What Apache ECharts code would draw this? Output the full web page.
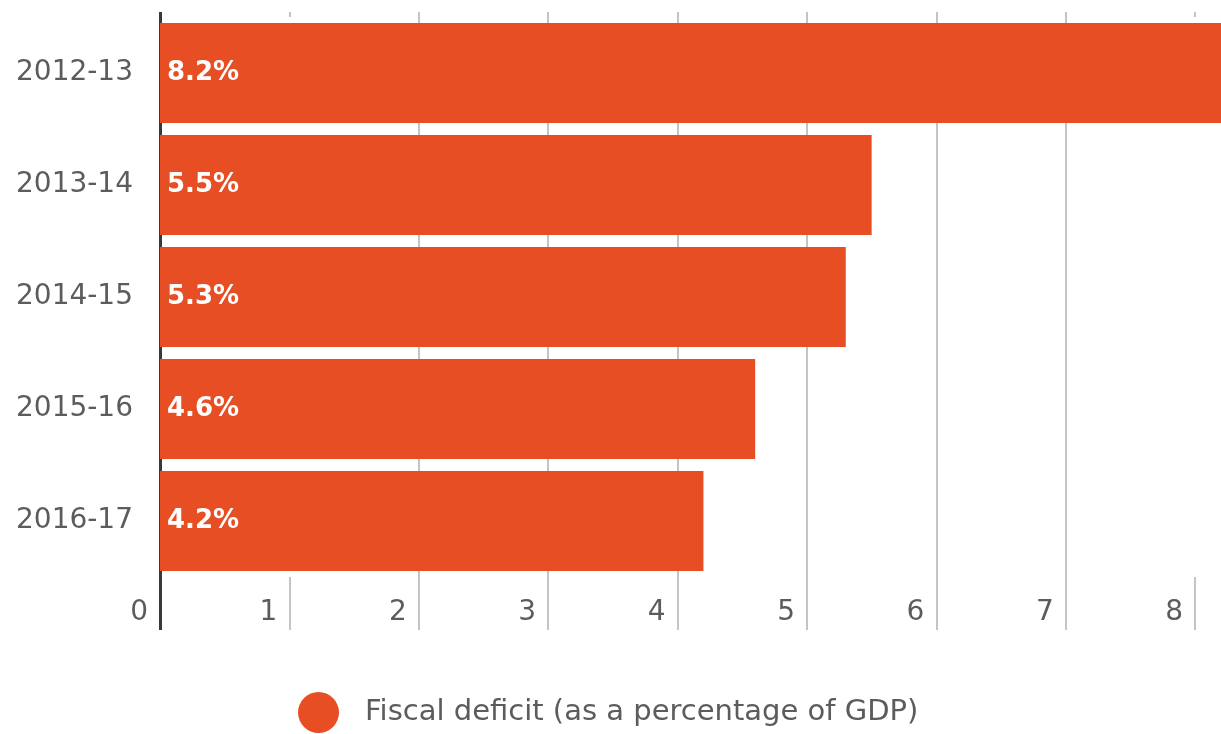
<!DOCTYPE html>
<html>
<head>
<meta charset="utf-8">
<script src="https://cdn.jsdelivr.net/npm/echarts@6/dist/echarts.min.js"></script>
<style>html,body{margin:0;padding:0;background:#fff}#c{width:1221px;height:734px}</style>
</head>
<body>
<div id="c"></div>
<script>
const categories = ['2012-13', '2013-14', '2014-15', '2015-16', '2016-17'];
const deficit = [8.2, 5.5, 5.3, 4.6, 4.2];
const gridTicks = [1, 2, 3, 4, 5, 6, 7, 8];
const axisZero = [0];
const tickLabels = [0, 1, 2, 3, 4, 5, 6, 7, 8];
const seriesName = 'Fiscal deficit (as a percentage of GDP)';

const FONT = 'DejaVu Sans';
const GRAY_TEXT = '#5c5c5c';
const GRID = '#c4c4c4';
const DARK = '#3a3a3a';
const BAR = '#E84E24';

const chart = echarts.init(document.getElementById('c'), null, {renderer: 'canvas'});
const baseX = {type: 'value', min: 0, max: 8.2, interval: 1, gridIndex: 0};
chart.setOption({
  animation: false,
  backgroundColor: '#ffffff',
  grid: {left: 160, right: 0, top: 17, height: 560, containLabel: false},
  legend: {
    data: [seriesName], left: 298, top: 692, padding: 0,
    icon: 'circle', itemWidth: 41, itemHeight: 41,
    textStyle: {fontFamily: FONT, fontSize: 29, color: GRAY_TEXT, padding: [0, 0, 0, 21]}
  },
  xAxis: [
    Object.assign({}, baseX, {
      position: 'bottom',
      axisLine: {show: false},
      axisTick: {show: true, length: 53, customValues: gridTicks, lineStyle: {color: GRID, width: 2}},
      axisLabel: {show: true, customValues: tickLabels, fontFamily: FONT, fontSize: 28, color: GRAY_TEXT,
        align: 'right', margin: 22, padding: [0, 12, 0, 0]},
      splitLine: {show: true, showMinLine: false, showMaxLine: false, lineStyle: {color: GRID, width: 2}}
    }),
    Object.assign({}, baseX, {
      position: 'bottom',
      axisLine: {show: false},
      axisTick: {show: true, length: 53, customValues: axisZero, lineStyle: {color: DARK, width: 3}},
      axisLabel: {show: false},
      splitLine: {show: false}
    }),
    Object.assign({}, baseX, {
      position: 'top',
      axisLine: {show: false},
      axisTick: {show: true, length: 5, customValues: gridTicks, lineStyle: {color: GRID, width: 2}},
      axisLabel: {show: false},
      splitLine: {show: false}
    }),
    Object.assign({}, baseX, {
      position: 'top',
      axisLine: {show: false},
      axisTick: {show: true, length: 5, customValues: axisZero, lineStyle: {color: DARK, width: 3}},
      axisLabel: {show: false},
      splitLine: {show: false}
    })
  ],
  yAxis: {
    type: 'category', data: categories, inverse: true,
    axisLine: {show: true, lineStyle: {color: DARK, width: 3}},
    axisTick: {show: false},
    axisLabel: {fontFamily: FONT, fontSize: 28, color: GRAY_TEXT, margin: 27},
    splitLine: {show: false}
  },
  series: [{
    name: seriesName, type: 'bar', data: deficit, barWidth: 100,
    xAxisIndex: 0,
    itemStyle: {color: BAR},
    label: {show: true, position: 'insideLeft', distance: 7, formatter: '{c}%',
      fontFamily: FONT, fontSize: 26, fontWeight: 'bold', color: '#ffffff'}
  }]
});
</script>
</body>
</html>
